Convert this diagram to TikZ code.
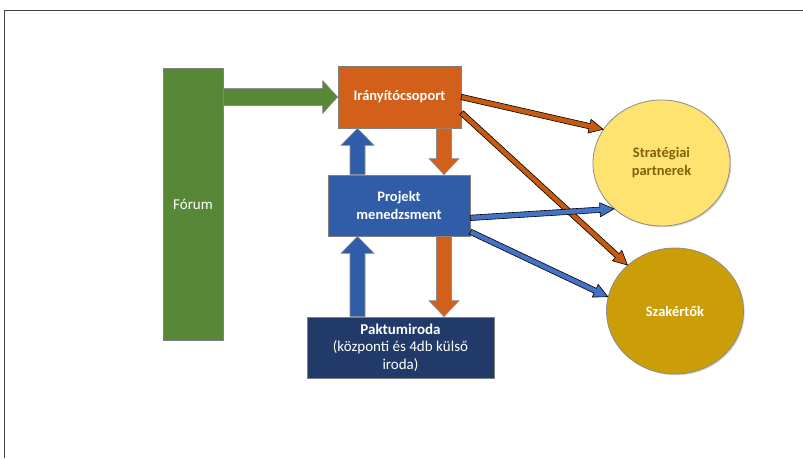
\documentclass[tikz,border=0pt]{standalone}
\usepackage{fontspec}
\setmainfont{Carlito}
\usetikzlibrary{calc,shadows,shapes.geometric}

\definecolor{forumgreen}{RGB}{88,135,55}
\definecolor{steerorange}{RGB}{210,96,26}
\definecolor{pmblue}{RGB}{47,93,168}
\definecolor{paktblue}{RGB}{33,58,105}
\definecolor{stratyellow}{RGB}{255,227,112}
\definecolor{strattext}{RGB}{125,100,10}
\definecolor{expertgold}{RGB}{203,158,8}
\definecolor{linkblue}{RGB}{68,114,196}
\definecolor{linkorange}{RGB}{197,90,17}

\newcommand{\blockarrow}[6]{%
  \coordinate (ba-n) at ($(#3)!#6!(#2)$);
  \filldraw[#1] ($(#2)!#4!90:(#3)$) -- ($(ba-n)!#4!-90:(#2)$) -- ($(ba-n)!#5!-90:(#2)$) -- (#3)
    -- ($(ba-n)!#5!90:(#2)$) -- ($(ba-n)!#4!90:(#2)$) -- ($(#2)!#4!-90:(#3)$) -- cycle;
}

\tikzset{
  box/.style={rectangle, draw=black!50, line width=0.8pt, text=white, align=center, inner sep=0pt,
    font=\bfseries\fontsize{14.5}{18}\selectfont,
    drop shadow={opacity=0.35, shadow xshift=1.2pt, shadow yshift=-1.2pt}},
  disc/.style={ellipse, draw=black!45, line width=0.8pt, align=center, inner sep=0pt,
    minimum width=137pt, minimum height=126pt, font=\bfseries\fontsize{14.5}{18}\selectfont,
    drop shadow={opacity=0.35, shadow xshift=1.2pt, shadow yshift=-1.2pt}},
  bigarrow/.style={draw=black!45, line width=0.6pt},
  thinarrow/.style={draw=black, line width=0.6pt}
}

\begin{document}
\begin{tikzpicture}[x=1pt,y=-1pt]
\useasboundingbox (0,0) rectangle (803,458);
\draw[black!75, line width=0.9pt] (4,458) -- (4,10) -- (803,10);

\node[box, fill=forumgreen, minimum width=60pt, minimum height=272pt, font=\fontsize{15}{18}\selectfont] (forum) at (193,204) {Fórum};
\node[box, fill=steerorange, minimum width=123pt, minimum height=62pt] (iranyito) at (399.5,97) {Irányítócsoport};
\node[box, fill=pmblue, minimum width=142pt, minimum height=61pt] (projekt) at (399,205.5) {Projekt\\menedzsment};
\node[box, fill=paktblue, minimum width=187pt, minimum height=61pt, font=\fontsize{15}{17.5}\selectfont] (paktum) at (400.5,347.5) {\textbf{Paktumiroda}\\(központi és 4db külső\\iroda)};
\node[disc, fill=stratyellow, text=strattext] (strat) at (661.5,163) {Stratégiai\\partnerek};
\node[disc, fill=expertgold, text=white] (szak) at (675,311) {Szakértők};

\coordinate (xl) at (357.5,0);
\coordinate (xr) at (444,0);
\coordinate (fa) at (forum.east |- iranyito.west);
\coordinate (ua1) at (xl |- projekt.north);
\coordinate (ub1) at (xl |- iranyito.south);
\coordinate (da1) at (xr |- iranyito.south);
\coordinate (db1) at (xr |- projekt.north);
\coordinate (ua2) at (xl |- paktum.north);
\coordinate (ub2) at (xl |- projekt.south);
\coordinate (da2) at (xr |- projekt.south);
\coordinate (db2) at (xr |- paktum.north);
\coordinate (io1) at (iranyito.east);
\coordinate (io2) at ($(iranyito.east)!0.5!(iranyito.south east)$);
\coordinate (pb1) at ($(projekt.east)!0.4!(projekt.south east)$);
\coordinate (pb2) at ($(projekt.east)!0.85!(projekt.south east)$);

\blockarrow{bigarrow, fill=forumgreen}{fa}{iranyito.west}{8.5pt}{16.5pt}{15pt}
\blockarrow{bigarrow, fill=pmblue}{ua1}{ub1}{7.5pt}{16.5pt}{17pt}
\blockarrow{bigarrow, fill=steerorange}{da1}{db1}{7.5pt}{15pt}{16pt}
\blockarrow{bigarrow, fill=pmblue}{ua2}{ub2}{7.5pt}{16.5pt}{17pt}
\blockarrow{bigarrow, fill=steerorange}{da2}{db2}{7.5pt}{15pt}{16pt}

\blockarrow{thinarrow, fill=linkorange}{io1}{strat.150}{2.7pt}{7pt}{14pt}
\blockarrow{thinarrow, fill=linkorange}{io2}{szak.136}{2.7pt}{7pt}{14pt}
\blockarrow{thinarrow, fill=linkblue}{pb1}{strat.224}{2.7pt}{7pt}{14pt}
\blockarrow{thinarrow, fill=linkblue}{pb2}{szak.168}{2.7pt}{7pt}{14pt}
\end{tikzpicture}
\end{document}
